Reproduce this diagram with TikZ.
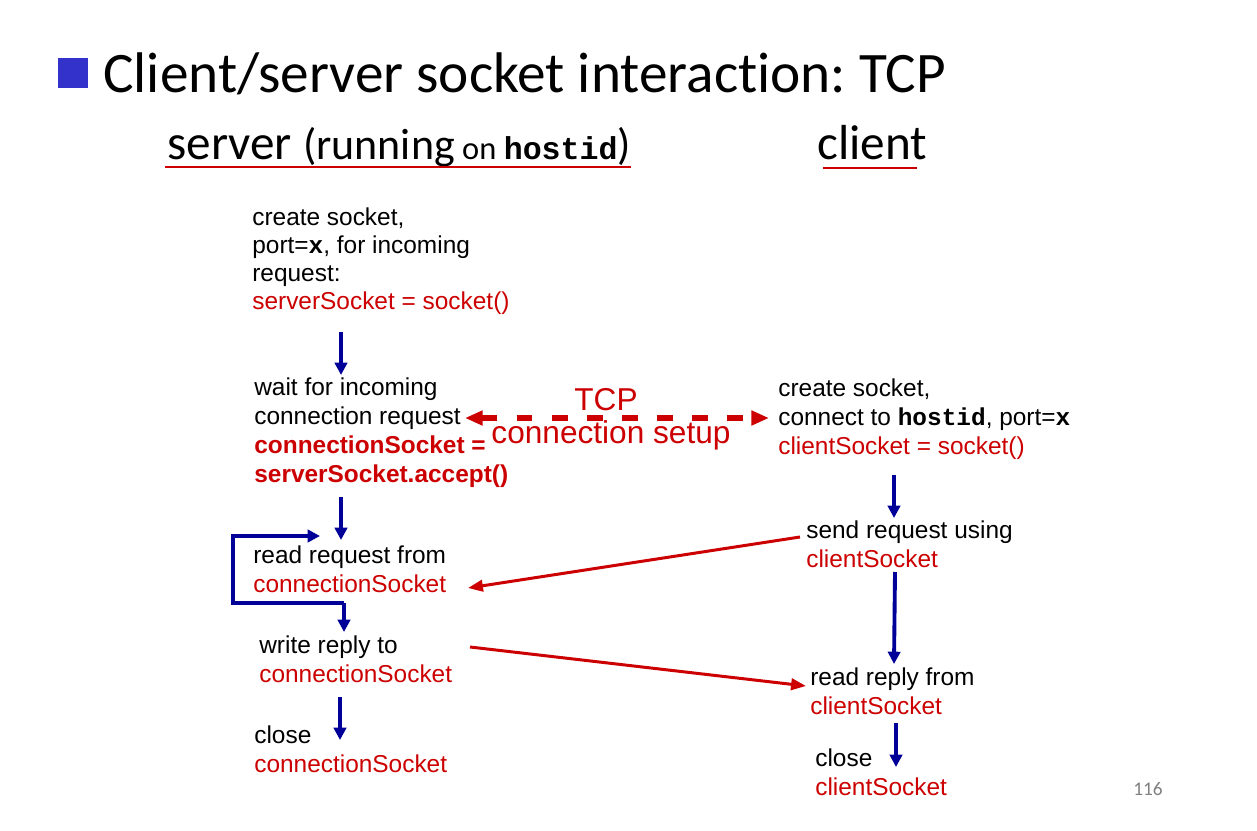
\documentclass[tikz,border=0pt]{standalone}
\usepackage{fontspec}
\setmainfont{Liberation Sans}
\setmonofont{Liberation Mono}
\newfontfamily\slidefont[Ligatures={NoCommon}]{Carlito}
\usetikzlibrary{arrows.meta,calc}
\definecolor{sred}{RGB}{204,0,0}
\definecolor{snavy}{RGB}{0,0,153}
\definecolor{sbullet}{RGB}{51,51,204}
\definecolor{pagegray}{RGB}{128,128,128}
\begin{document}
\begin{tikzpicture}[x=0.02cm,y=-0.02cm,
  txt/.style={anchor=north west,inner sep=0pt,align=left,font=\fontsize{13.9}{16.6}\selectfont},
  flow/.style={draw=snavy,line width=2.2pt,-{Triangle[length=7pt,width=7pt]}},
  msg/.style={draw=sred,line width=1.7pt,-{Triangle[length=8.5pt,width=6.5pt]}},
  setup/.style={draw=sred,line width=3.2pt,dash pattern=on 9pt off 11pt,
    {Triangle[length=10pt,width=8pt]}-{Triangle[length=10pt,width=8pt]}},
  uline/.style={draw=sred,line width=1.7pt}]
\useasboundingbox (0,0) rectangle (1257,831);
\fill[white] (0,0) rectangle (1257,831);

% title with square bullet
\fill[sbullet] (58,58) rectangle (88,88);
\node[anchor=base west,inner sep=0pt,font=\slidefont\fontsize{32.6}{38}\selectfont\frenchspacing] (title) at (103,93)
  {Client/server socket interaction: TCP};

% column headings
\node[anchor=base west,inner sep=0pt] (srv) at (167,160)
  {\slidefont\fontsize{28}{30}\selectfont server \fontsize{25}{27}\selectfont(running\fontsize{18.5}{20}\selectfont{} on \fontsize{18}{20}\selectfont\texttt{\bfseries hostid}\fontsize{25}{27}\selectfont)};
\node[anchor=base west,inner sep=0pt,font=\slidefont\fontsize{28}{30}\selectfont] (cli) at (817,160) {client};
\draw[uline] ($(srv.base west)+(-2,7)$) -- ($(srv.base east)+(0,7)$);
\draw[uline] ($(cli.base west)+(6,8)$) -- ($(cli.base east)+(-10,8)$);

% server side
\node[txt,font=\fontsize{13.9}{16.1}\selectfont] (A) at (252,207) {create socket,\\port=\texttt{\bfseries x}, for incoming\\request:\\{\color{sred}serverSocket = socket()}};
\node[txt] (B) at (254,377) {wait for incoming\\connection request\\{\bfseries\color{sred}connectionSocket =}\\{\bfseries\color{sred}serverSocket.accept()}};
\node[txt] (C) at (253,545) {read request from\\{\color{sred}connectionSocket}};
\node[txt] (D) at (259,635) {write reply to\\{\color{sred}connectionSocket}};
\node[txt] (E) at (254,725) {close\\{\color{sred}connectionSocket}};

% client side
\node[txt] (F) at (778,378) {create socket,\\connect to \texttt{\bfseries hostid}, port=\texttt{\bfseries x}\\{\color{sred}clientSocket = socket()}};
\node[txt] (G) at (806,520) {send request using\\{\color{sred}clientSocket}};
\node[txt] (H) at (810,667) {read reply from\\{\color{sred}clientSocket}};
\node[txt] (I) at (815,748) {close\\{\color{sred}clientSocket}};

% connection setup label
\node[anchor=base,inner sep=0pt,text=sred,font=\fontsize{18}{20}\selectfont] (tcp) at (606,410) {TCP};
\node[anchor=base,inner sep=0pt,text=sred,font=\fontsize{18}{20}\selectfont] (setuplbl) at (611,443) {connection setup};

% server flow
\draw[flow] ($(A.north west)+(89,125)$) -- ($(B.north west)+(87,-2)$);
\draw[flow] ($(B.north west)+(87,120)$) -- ($(C.north west)+(88,-5)$);
\draw[flow] ($(C.north west)+(91,58)$) -- ($(C.north west)+(-20,58)$)
  -- ($(C.north west)+(-20,-9)$) -- ($(C.north west)+(67,-9)$);
\draw[flow] ($(C.north west)+(91,58)$) -- ($(D.north west)+(85,-3)$);
\draw[flow] ($(D.north west)+(81,62)$) -- ($(E.north west)+(86,15)$);

% client flow
\draw[flow] ($(F.north west)+(116,97)$) -- ($(G.north west)+(88,-2)$);
\draw[flow] ($(G.north west)+(89,52)$) -- ($(H.north west)+(84,-3)$);
\draw[flow] ($(H.north west)+(86,56)$) -- ($(I.north west)+(81,19)$);

% messages between the hosts
\draw[setup] ($(B.north west)+(211,41)$) -- ($(F.north west)+(-9,40)$);
\draw[msg] ($(G.north west)+(-6,17)$) -- ($(C.north west)+(215,43)$);
\draw[msg] ($(D.north west)+(211,12)$) -- ($(H.north west)+(-4,19)$);

% page number
\node[inner sep=0pt,text=pagegray,font=\slidefont\fontsize{11}{13}\selectfont] (pg) at (1148,789) {116};
\end{tikzpicture}
\end{document}
